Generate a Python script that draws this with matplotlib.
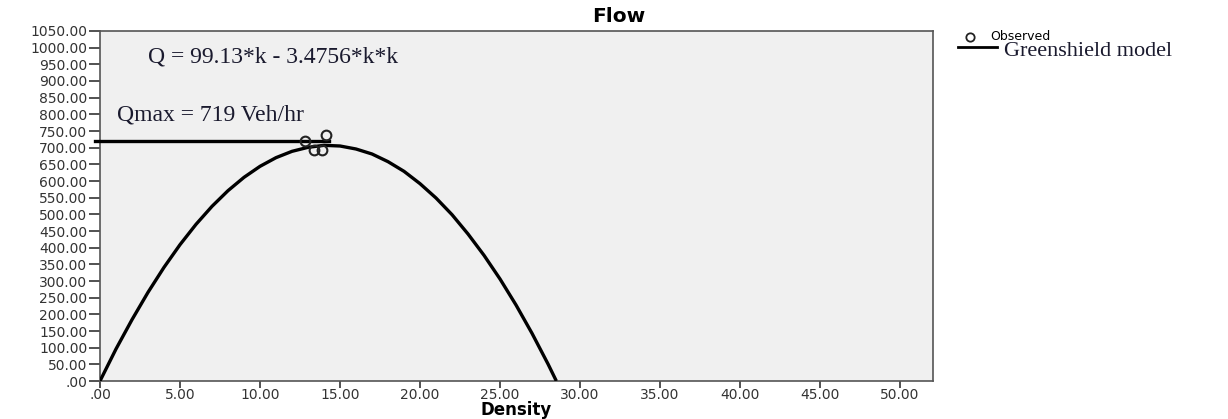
import matplotlib
matplotlib.use('Agg')
import matplotlib.pyplot as plt
from matplotlib.lines import Line2D
from matplotlib.ticker import FuncFormatter, MultipleLocator

# observed points (density, flow)
obs_density = [12.8, 13.4, 13.9, 14.1]
obs_flow = [720, 693, 693, 738]

# Greenshield model curve
model_density = [0, 1, 2, 3, 4, 5, 6, 7, 8, 9, 10, 11, 12, 13, 14, 15, 16,
                 17, 18, 19, 20, 21, 22, 23, 24, 25, 26, 27, 28, 28.52]
model_flow = [0, 96, 184, 266, 341, 409, 470, 524, 571, 611, 644, 670, 689,
              701, 707, 705, 696, 681, 658, 629, 592, 549, 499, 441, 377, 306,
              228, 143, 51, 0]

# Qmax reference line
qmax = 719
qmax_density = [-0.3, 14.3]

equation_text = 'Q = 99.13*k - 3.4756*k*k'
qmax_text = 'Qmax = 719 Veh/hr'

fig = plt.figure(figsize=(12.28, 4.19), dpi=100)
ax = fig.add_axes([100 / 1228, 38 / 419, 833 / 1228, 350 / 419])
ax.set_facecolor('#f0f0f0')

ax.plot(model_density, model_flow, color='black', lw=2.4, solid_capstyle='butt',
        zorder=3)
ax.plot(qmax_density, [qmax, qmax], color='black', lw=2.4, clip_on=False, zorder=3)
ax.plot(obs_density, obs_flow, 'o', mfc='none', mec='#222222', mew=1.5, ms=7,
        zorder=4)

ax.set_xlim(0, 52.06)
ax.set_ylim(0, 1050)
ax.xaxis.set_major_locator(MultipleLocator(5))
ax.yaxis.set_major_locator(MultipleLocator(50))

def fmt(v, pos):
    s = '%.2f' % v
    return s[1:] if s.startswith('0') else s

ax.xaxis.set_major_formatter(FuncFormatter(fmt))
ax.yaxis.set_major_formatter(FuncFormatter(fmt))
ax.tick_params(axis='both', labelsize=10, colors='#333333', width=1.2)
ax.tick_params(axis='y', length=8, pad=1)
ax.tick_params(axis='x', length=5, pad=0)
for s in ax.spines.values():
    s.set_color('#555555')
    s.set_linewidth(1.2)

fig.text(619 / 1228, 1 - 17 / 419, 'Flow', fontsize=14.5, fontweight='bold',
         ha='center', va='center')
fig.text(516 / 1228, 0, 'Density', fontsize=12, fontweight='bold',
         ha='center', va='bottom')

ax.text(0.058, 0.925, equation_text, transform=ax.transAxes, fontsize=17,
        family='Liberation Serif', color='#1a1a2e', va='center')
ax.text(0.02, 0.76, qmax_text, transform=ax.transAxes, fontsize=17,
        family='Liberation Serif', color='#1a1a2e', va='center')

# legend, laid out by hand like the original
fig.add_artist(Line2D([970 / 1228], [1 - 37 / 419], marker='o', mfc='none',
                      mec='#222222', mew=1.3, ms=6, transform=fig.transFigure))
fig.add_artist(Line2D([958 / 1228, 997 / 1228], [1 - 47 / 419, 1 - 47 / 419],
                      color='black', lw=2, transform=fig.transFigure))
fig.text(990 / 1228, 1 - 36 / 419, 'Observed', fontsize=9, va='center')
fig.text(1004 / 1228, 1 - 51 / 419, 'Greenshield model', fontsize=16,
         family='Liberation Serif', color='#1a1a2e', va='center')

fig.savefig('out.png', dpi=100)
